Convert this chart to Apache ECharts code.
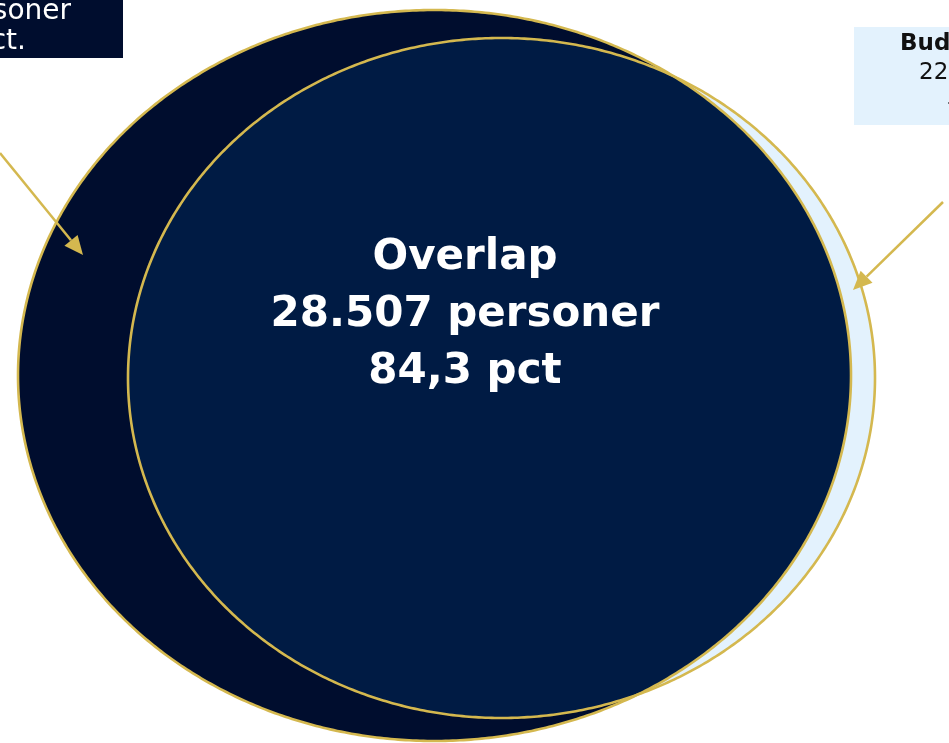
<!DOCTYPE html>
<html><head><meta charset="utf-8">
<script src="https://cdn.jsdelivr.net/npm/echarts@6/dist/echarts.min.js"></script>
<style>html,body{margin:0;padding:0;background:#fff;overflow:hidden}#c{width:949px;height:743px}</style>
</head><body><div id="c"></div>
<script>
// ---- data ----
const regionNames = ['Kun dagpenge', 'Overlap', 'Budgetgaranti'];
const regionCounts = [5083, 28507, 226];
const regionPcts = [15.0, 84.3, 0.7];

const fmtInt = n => n.toString().replace(/\B(?=(\d{3})+(?!\d))/g, '.');
const fmtPct = p => p.toFixed(1).replace('.', ',');

// ---- layout (chart units) ----
const ellA = {cx: 434.5, cy: 375.5, rx: 416.5, ry: 365.5};
const ellB = {cx: 501.5, cy: 378, rx: 373.5, ry: 340};
const arrowDefs = [{from: [0, 153], to: [83, 255]}, {from: [943, 202], to: [853, 290]}];
const overlapLabelAt = [465, 315];

const COL = {a: '#000d2e', ov: '#001b44', b: '#e3f2fd', gold: '#d4b84f', text: '#111111'};
const FONT = '"DejaVu Sans", sans-serif';

function ellipsePts(e, n) {
  const pts = [];
  for (let i = 0; i < n; i++) {
    const t = 2 * Math.PI * i / n;
    pts.push([e.cx + e.rx * Math.cos(t), e.cy + e.ry * Math.sin(t)]);
  }
  return pts;
}
function inside(e, p) {
  const dx = (p[0] - e.cx) / e.rx, dy = (p[1] - e.cy) / e.ry;
  return dx * dx + dy * dy <= 1.000001;
}

function renderItem(params, api) {
  const N = 720;
  const pa = ellipsePts(ellA, N), pb = ellipsePts(ellB, N);
  const px = pts => pts.map(p => api.coord(p));
  const c = [(ellA.cx + ellB.cx) / 2, (ellA.cy + ellB.cy) / 2];
  const inter = pa.filter(p => inside(ellB, p)).concat(pb.filter(p => inside(ellA, p)));
  inter.sort((p, q) => Math.atan2(p[1] - c[1], p[0] - c[0]) - Math.atan2(q[1] - c[1], q[0] - c[0]));

  const children = [
    {type: 'polygon', shape: {points: px(pb)}, style: {fill: COL.b}},
    {type: 'polygon', shape: {points: px(pa)}, style: {fill: COL.a}},
    {type: 'polygon', shape: {points: px(inter)}, style: {fill: COL.ov}},
    {type: 'polygon', shape: {points: px(pb)}, style: {fill: null, stroke: COL.gold, lineWidth: 2.6}},
    {type: 'polygon', shape: {points: px(pa)}, style: {fill: null, stroke: COL.gold, lineWidth: 2.6}}
  ];
  arrowDefs.forEach(a => {
    const f = api.coord(a.from), t = api.coord(a.to);
    const dx = t[0] - f[0], dy = t[1] - f[1], L = Math.hypot(dx, dy);
    const ux = dx / L, uy = dy / L, hl = 19, hw = 8.5;
    const bx = t[0] - ux * hl, by = t[1] - uy * hl;
    children.push({type: 'line', shape: {x1: f[0], y1: f[1], x2: bx, y2: by}, style: {stroke: COL.gold, lineWidth: 2.5}});
    children.push({type: 'polygon', shape: {points: [t, [bx - uy * hw, by + ux * hw], [bx + uy * hw, by - ux * hw]]}, style: {fill: COL.gold}});
  });
  const lp = api.coord(overlapLabelAt);
  children.push({
    type: 'text', x: lp[0], y: lp[1],
    style: {
      text: regionNames[1] + '\n' + fmtInt(regionCounts[1]) + ' personer\n' + fmtPct(regionPcts[1]) + ' pct',
      fill: '#ffffff', font: 'bold 42px ' + FONT, align: 'center', verticalAlign: 'middle', lineHeight: 57
    }
  });
  return {type: 'group', children};
}

const chart = echarts.init(document.getElementById('c'), null, {renderer: 'canvas'});
chart.setOption({
  animation: false,
  grid: {left: 0, right: 0, top: 0, bottom: 0},
  xAxis: {type: 'value', min: 0, max: 949, show: false},
  yAxis: {type: 'value', min: 0, max: 743, inverse: true, show: false},
  series: [{type: 'custom', coordinateSystem: 'cartesian2d', clip: false, data: [[0, 0]], renderItem}],
  graphic: [
    {type: 'rect', left: -1, top: -1, shape: {width: 124, height: 59}, style: {fill: COL.a}, z: 10},
    {type: 'text', x: 71, y: 12, style: {text: fmtInt(regionCounts[0]) + ' personer', fill: '#fff', font: '28px ' + FONT, align: 'right', verticalAlign: 'middle'}, z: 11},
    {type: 'text', x: 26, y: 42, style: {text: fmtPct(regionPcts[0]) + ' pct.', fill: '#fff', font: '28px ' + FONT, align: 'right', verticalAlign: 'middle'}, z: 11},
    {type: 'rect', x: 854, y: 27, shape: {width: 120, height: 98}, style: {fill: COL.b}, z: 10},
    {type: 'text', x: 900, y: 44, style: {text: regionNames[2], fill: COL.text, font: 'bold 23px ' + FONT, align: 'left', verticalAlign: 'middle'}, z: 11},
    {type: 'text', x: 919, y: 73, style: {text: fmtInt(regionCounts[2]) + ' personer', fill: COL.text, font: '23px ' + FONT, align: 'left', verticalAlign: 'middle'}, z: 11},
    {type: 'text', x: 946, y: 104, style: {text: '÷ ' + fmtPct(regionPcts[2]) + ' pct.', fill: COL.text, font: '23px ' + FONT, align: 'left', verticalAlign: 'middle'}, z: 11}
  ]
});
</script>
</body></html>
